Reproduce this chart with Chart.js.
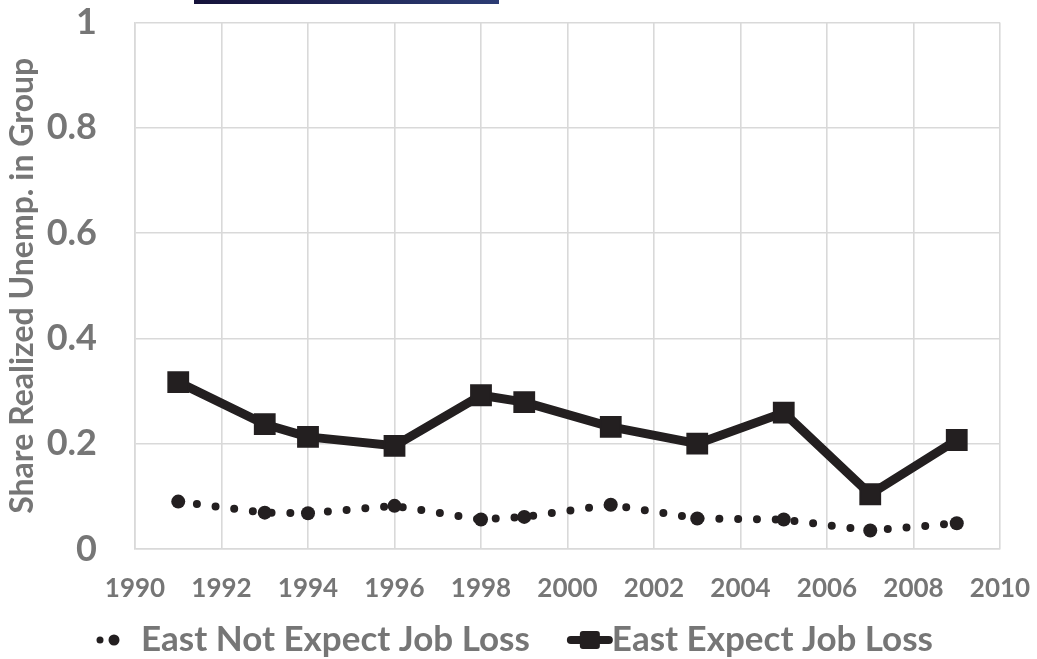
<!DOCTYPE html>
<html>
<head>
<meta charset="utf-8">
<script src="https://cdn.jsdelivr.net/npm/chart.js@4"></script>
<style>
  html, body { margin: 0; padding: 0; background: #fff; }
  #wrap { position: relative; width: 1037px; height: 659px; }
  #topbar { position: absolute; left: 194px; top: 0; width: 305px; height: 4px;
            background: linear-gradient(to right, #15123a, #2c3c74); }
</style>
</head>
<body>
<div id="wrap">
  <canvas id="c" width="1037" height="659"></canvas>
  <div id="topbar"></div>
</div>
<script>
// данни, отчетени от графиката
const years       = [1991, 1993, 1994, 1996, 1998, 1999, 2001, 2003, 2005, 2007, 2009];
const notExpect   = [0.090, 0.069, 0.068, 0.082, 0.056, 0.061, 0.084, 0.058, 0.056, 0.035, 0.049];
const expectLoss  = [0.317, 0.237, 0.213, 0.196, 0.292, 0.279, 0.232, 0.200, 0.259, 0.104, 0.207];
const seriesNames = ['East Not Expect Job Loss', 'East Expect Job Loss'];
const yTitle      = 'Share Realized Unemp. in Group';

const INK  = '#231f20';
const GRAY = '#767676';
const GRID = '#d9d9d9';
const FONT = 'Lato, "Open Sans", sans-serif';

const pts = vals => years.map((y, i) => ({ x: y, y: vals[i] }));

// легенда, рисувана ръчно (икона линия + маркер)
const legendPlugin = {
  id: 'xlLegend',
  afterDraw(chart) {
    const ctx = chart.ctx;
    ctx.save();
    ctx.font = 'bold 35px ' + FONT;
    const w1 = ctx.measureText(seriesNames[0]).width;
    const w2 = ctx.measureText(seriesNames[1]).width;
    const total = 48 + w1 + 38 + 44 + w2;
    let x = 513 - total / 2;
    const y = 640;

    // икона 1: точки
    ctx.fillStyle = INK;
    ctx.beginPath(); ctx.arc(x + 7, y, 3.5, 0, Math.PI * 2); ctx.fill();
    ctx.beginPath(); ctx.arc(x + 21, y, 5.5, 0, Math.PI * 2); ctx.fill();
    ctx.fillStyle = GRAY;
    ctx.textBaseline = 'middle';
    ctx.textAlign = 'left';
    ctx.fillText(seriesNames[0], x + 48, y);
    x += 48 + w1 + 38;

    // икона 2: линия с квадрат
    ctx.strokeStyle = INK;
    ctx.lineWidth = 8;
    ctx.lineCap = 'round';
    ctx.beginPath(); ctx.moveTo(x + 3, y); ctx.lineTo(x + 41, y); ctx.stroke();
    ctx.fillStyle = INK;
    ctx.beginPath();
    ctx.roundRect(x + 12, y - 9, 20, 18, 3);
    ctx.fill();
    ctx.fillStyle = GRAY;
    ctx.fillText(seriesNames[1], x + 44, y);
    ctx.restore();
  }
};

new Chart(document.getElementById('c'), {
  type: 'line',
  data: {
    datasets: [
      {
        label: seriesNames[0],
        data: pts(notExpect),
        borderColor: INK,
        backgroundColor: INK,
        borderWidth: 8,
        borderDash: [0, 18.8],
        borderCapStyle: 'round',
        pointStyle: 'circle',
        pointRadius: 7,
        pointBorderWidth: 0,
        tension: 0
      },
      {
        label: seriesNames[1],
        data: pts(expectLoss),
        borderColor: INK,
        backgroundColor: INK,
        borderWidth: 9,
        borderJoinStyle: 'round',
        pointStyle: 'rect',
        pointRadius: 14,
        pointBorderWidth: 2,
        tension: 0
      }
    ]
  },
  options: {
    responsive: false,
    animation: false,
    layout: { padding: { left: 0, right: 37, top: 22.5, bottom: 0 } },
    plugins: {
      legend: { display: false },
      tooltip: { enabled: false }
    },
    scales: {
      x: {
        type: 'linear',
        min: 1990,
        max: 2010,
        grid: { color: GRID, lineWidth: 1.6, drawTicks: false },
        border: { color: GRID, width: 1.6 },
        ticks: {
          stepSize: 2,
          padding: 24,
          color: GRAY,
          font: { family: FONT, size: 26, weight: 'bold' },
          maxRotation: 0,
          callback: v => String(v)
        },
        afterFit: s => {
          s.height = 110;
          s.paddingLeft = 0;
          s.paddingRight = 0;
        }
      },
      y: {
        min: 0,
        max: 1,
        grid: { color: GRID, lineWidth: 1.6, drawTicks: false },
        border: { color: GRID, width: 1.6 },
        ticks: {
          stepSize: 0.2,
          padding: 38,
          color: GRAY,
          font: { family: FONT, size: 36, weight: 'bold' },
          callback: v => String(Math.round(v * 10) / 10)
        },
        title: {
          display: true,
          text: yTitle,
          color: GRAY,
          padding: { top: 3, bottom: 0 },
          font: { family: FONT, size: 32, weight: 'bold' }
        },
        afterFit: s => {
          s.width = 135;
          s.paddingTop = 0;
          s.paddingBottom = 0;
        }
      }
    }
  },
  plugins: [legendPlugin]
});
</script>
</body>
</html>
